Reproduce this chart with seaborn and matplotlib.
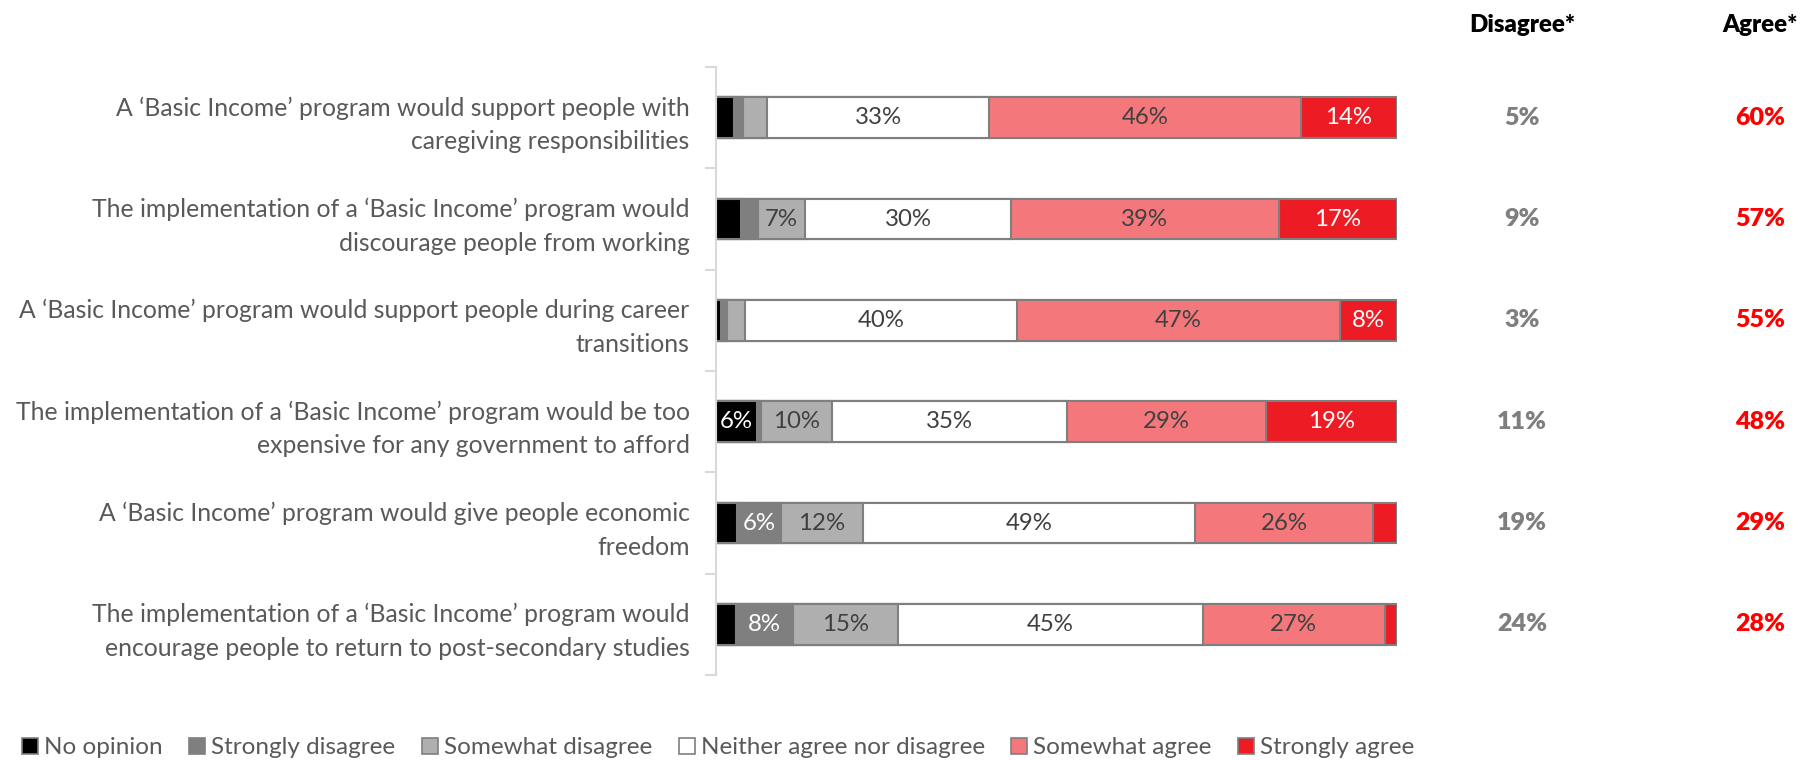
import numpy as np
import pandas as pd
import seaborn as sns
import matplotlib.pyplot as plt
import matplotlib.transforms as mtrans
from matplotlib.patches import Patch
from matplotlib.ticker import FixedLocator

statements = [
    "A \u2018Basic Income\u2019 program would support people with\ncaregiving responsibilities",
    "The implementation of a \u2018Basic Income\u2019 program would\ndiscourage people from working",
    "A \u2018Basic Income\u2019 program would support people during career\ntransitions",
    "The implementation of a \u2018Basic Income\u2019 program would be too\nexpensive for any government to afford",
    "A \u2018Basic Income\u2019 program would give people economic\nfreedom",
    "The implementation of a \u2018Basic Income\u2019 program would\nencourage people to return to post-secondary studies",
]
categories = ["No opinion", "Strongly disagree", "Somewhat disagree",
              "Neither agree nor disagree", "Somewhat agree", "Strongly agree"]

no_opinion = [2.6, 3.7, 0.8, 6.0, 3.1, 2.9]
strongly_disagree = [1.4, 2.4, 0.8, 0.6, 6.4, 8.4]
somewhat_disagree = [3.5, 7.0, 2.6, 10.4, 12.1, 15.4]
neither = [32.6, 30.2, 40.0, 34.6, 48.7, 44.8]
somewhat_agree = [45.8, 39.3, 47.4, 29.2, 26.2, 26.7]
strongly_agree = [14.1, 17.4, 8.4, 19.2, 3.5, 1.8]

disagree_net = ["5%", "9%", "3%", "11%", "19%", "24%"]
agree_net = ["60%", "57%", "55%", "48%", "29%", "28%"]

colors = ["#000000", "#7F7F7F", "#AFAFAF", "#FFFFFF", "#F4787B", "#ED1C24"]
label_colors = ["white", "white", "#404040", "#404040", "#404040", "white"]

series = [no_opinion, strongly_disagree, somewhat_disagree, neither, somewhat_agree, strongly_agree]
df = pd.DataFrame(dict(zip(categories, series)), index=statements)
cum = df.cumsum(axis=1)

sns.set_style("white")
plt.rcParams["font.family"] = ["Lato", "DejaVu Sans"]
FS = 17.8

fig = plt.figure(figsize=(18, 7.6), dpi=100)
ax = fig.add_axes([716 / 1800, 1 - 675 / 760, 681 / 1800, 608 / 760])

# stacked bars: draw cumulative totals, longest first
for k in range(len(categories) - 1, -1, -1):
    sns.barplot(x=cum.iloc[:, k].values, y=statements, color=colors[k],
                orient="h", width=0.4, edgecolor="#7F7F7F", linewidth=1.5,
                saturation=1, ax=ax)

for i, st in enumerate(statements):
    for k, cat in enumerate(categories):
        v = df.loc[st, cat]
        if v >= 5:
            ax.text(cum.iloc[i, k] - v / 2, i, f"{v:.0f}%", ha="center", va="center",
                    fontsize=17.3, color=label_colors[k])

ax.set_xlim(0, 100)
ax.set_ylim(len(statements) - 0.5, -0.5)
ax.set_xticks([])
ax.set_xlabel("")
ax.set_ylabel("")
for s in ["top", "right", "bottom"]:
    ax.spines[s].set_visible(False)
ax.spines["left"].set_color("#D9D9D9")
ax.spines["left"].set_linewidth(1.5)
ax.tick_params(axis="y", which="major", length=0, pad=19, labelsize=FS, labelcolor="#595959")
ax.yaxis.set_minor_locator(FixedLocator(np.arange(-0.5, len(statements), 1)))
ax.tick_params(axis="y", which="minor", length=8, width=1.5, color="#D9D9D9", left=True)
for lab in ax.get_yticklabels():
    lab.set_linespacing(1.55)
    lab.set_horizontalalignment("right")

trans = mtrans.blended_transform_factory(fig.transFigure, ax.transData)
for i in range(len(statements)):
    ax.text(1522 / 1800, i, disagree_net[i], transform=trans, ha="center", va="center",
            fontsize=18, fontweight="heavy", color="#7F7F7F")
    ax.text(1760 / 1800, i, agree_net[i], transform=trans, ha="center", va="center",
            fontsize=18, fontweight="heavy", color="#FF0000")
fig.text(1522 / 1800, 1 - 25 / 760, "Disagree*", ha="center", va="center",
         fontsize=17.3, fontweight="heavy", color="black")
fig.text(1760 / 1800, 1 - 25 / 760, "Agree*", ha="center", va="center",
         fontsize=17.3, fontweight="heavy", color="black")

handles = [Patch(facecolor=c, edgecolor="#7F7F7F", linewidth=1.2) for c in colors]
fig.legend(handles, categories, loc="center left", bbox_to_anchor=(0.0, 1 - 748 / 760),
           ncol=6, frameon=False, fontsize=17.5, labelcolor="#595959",
           handlelength=0.65, handleheight=0.65, handletextpad=0.25, columnspacing=1.1)

fig.savefig("out.png", dpi=100)
